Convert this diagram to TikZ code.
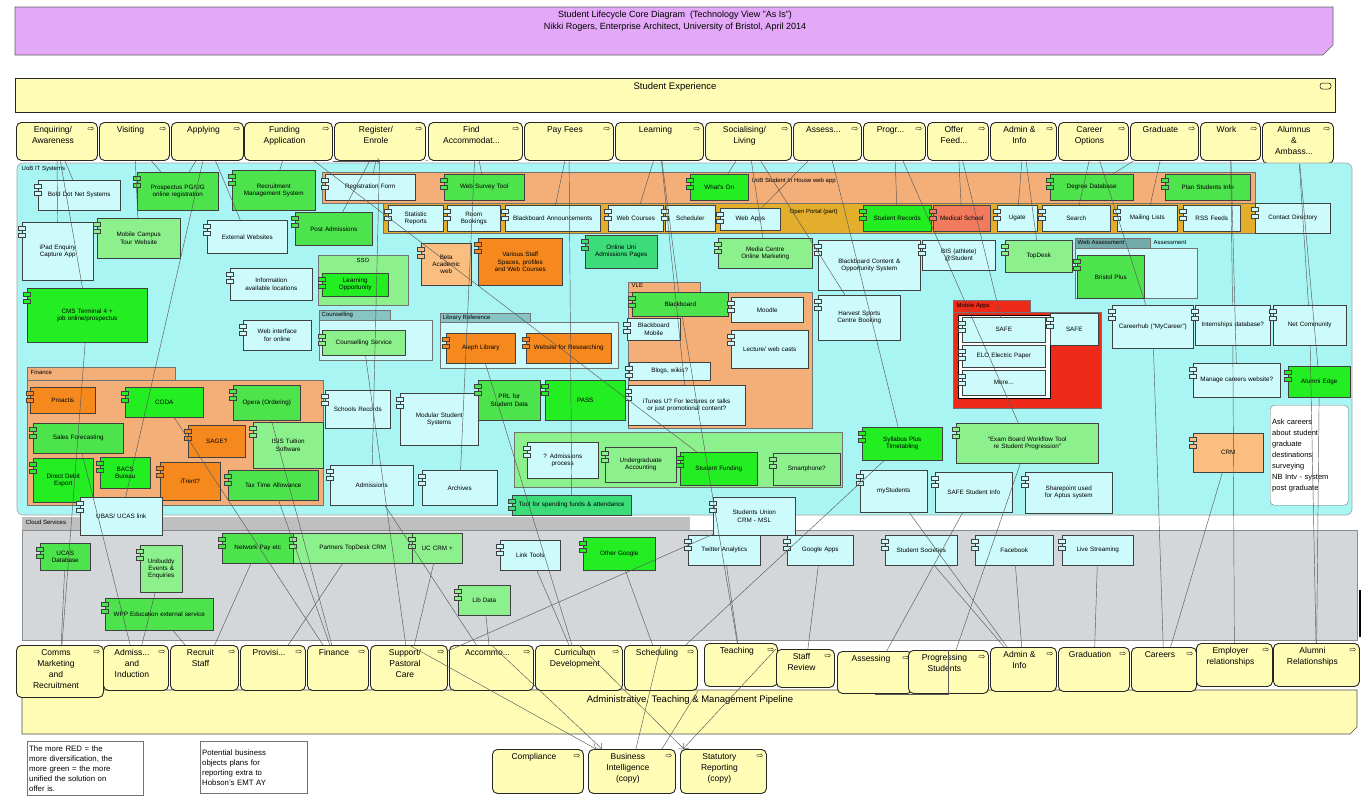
\documentclass[tikz,border=0pt]{standalone}
\usepackage{fontspec}
\setmainfont{Liberation Sans}
\newfontfamily\symf{DejaVu Sans}
\usetikzlibrary{arrows.meta}
\hyphenpenalty=10000
\exhyphenpenalty=10000

\definecolor{ttl}{HTML}{E3A8F7}
\definecolor{yel}{HTML}{FFFDB5}
\definecolor{uob}{HTML}{A9F5F4}
\definecolor{cld}{HTML}{D3D7DA}
\definecolor{cpale}{HTML}{CDFBFB}
\definecolor{gbright}{HTML}{22EE22}
\definecolor{gmid}{HTML}{4CE34C}
\definecolor{glight}{HTML}{8CF08C}
\definecolor{gteal}{HTML}{3DDC7A}
\definecolor{orng}{HTML}{F5891E}
\definecolor{peach}{HTML}{F4AE78}
\definecolor{lorng}{HTML}{F9BE80}
\definecolor{gold}{HTML}{E2AE2C}
\definecolor{redc}{HTML}{EE2A18}
\definecolor{salm}{HTML}{F27B5E}

\begin{document}
\begin{tikzpicture}[x=1pt, y=-1pt,
  every node/.append style={font=\fontsize{6.3}{7.2}\selectfont},
  sz/.code 2 args={\pgfmathsetmacro\bw{max(#1-12,4)}\edef\szopts{minimum width=#1pt, minimum height=#2pt, text width=\bw pt}\expandafter\tikzset\expandafter{\szopts}},
  proc/.style={draw=black!85, line width=0.9pt, fill=yel, rounded corners=5pt, anchor=north west, inner sep=0pt},
  ptxt/.style={anchor=north, yshift=-3pt, xshift=-4pt, align=center, inner sep=1pt, font=\fontsize{8.5}{11}\selectfont},
  picon/.style={inner sep=0pt, font=\symf\fontsize{8}{8}\selectfont},
  comp/.style={draw=black!75, fill=#1, line width=0.5pt, anchor=north west, align=center, inner sep=1pt,
    append after command={\pgfextra{\let\cnode\tikzlastnode}
      node[ctab=#1] at ([yshift=-6pt]\cnode.north west) {}
      node[ctab=#1] at ([yshift=-13pt]\cnode.north west) {}}},
  ctab/.style={draw=black!75, fill=#1, line width=0.5pt, minimum width=7pt, minimum height=4pt, inner sep=0pt},
  grp/.style={draw=black!55, line width=0.6pt},
  glbl/.style={anchor=north west, inner sep=1.5pt, font=\fontsize{6}{7}\selectfont},
  note/.style={draw=black!55, fill=white, anchor=north west, align=left, inner sep=2pt, font=\fontsize{7.8}{10}\selectfont},
  conn/.style={draw=black!65, line width=0.45pt},
  flow/.style={conn, -{Straight Barb[length=4pt]}}]

\useasboundingbox (0,0) rectangle (1367,796);
\fill[white] (0,0) rectangle (1367,796);

% title and student experience
\draw[fill=ttl, draw=black!60, line width=0.6pt] (15,7) -- (1333,7) -- (1333,45) -- (1323,55) -- (15,55) -- cycle;
\node[align=center, font=\fontsize{9}{12}\selectfont] (title) at (675,21)
  {Student Lifecycle Core Diagram~~(Technology View "As Is")\\Nikki Rogers, Enterprise Architect, University of Bristol, April 2014};
\draw[fill=yel, draw=black!85, line width=0.9pt] (15,78) rectangle (1335,112);
\node[font=\fontsize{9.5}{11}\selectfont] (sexp) at (675,87) {Student Experience};
\draw[line width=0.5pt, rounded corners=2.5pt] (1320,83) rectangle (1331,89);

% student journey
\node[proc, sz={81}{38}, label={[ptxt]north:{Enquiring/\\Awareness}}] (enq) at (16,122) {};
\node[proc, sz={70}{38}, label={[ptxt]north:Visiting}] (vis) at (99,122) {};
\node[proc, sz={72}{38}, label={[ptxt]north:Applying}] (app) at (171,122) {};
\node[proc, sz={88}{38}, label={[ptxt]north:{Funding\\Application}}] (fund) at (244,122) {};
\node[proc, sz={91}{38}, label={[ptxt]north:{Register/\\Enrole}}] (reg) at (334,122) {};
\node[proc, sz={94}{38}, label={[ptxt]north:{Find\\Accommodat...}}] (facc) at (428,122) {};
\node[proc, sz={89}{38}, label={[ptxt]north:Pay Fees}] (pay) at (524,122) {};
\node[proc, sz={88}{38}, label={[ptxt]north:Learning}] (learn) at (615,122) {};
\node[proc, sz={86}{38}, label={[ptxt]north:{Socialising/\\Living}}] (soc) at (705,122) {};
\node[proc, sz={68}{38}, label={[ptxt]north:Assess...}] (assess) at (793,122) {};
\node[proc, sz={62}{38}, label={[ptxt]north:Progr...}] (progr) at (863,122) {};
\node[proc, sz={61}{38}, label={[ptxt]north:{Offer\\Feed...}}] (offer) at (927,122) {};
\node[proc, sz={66}{38}, label={[ptxt]north:{Admin \&\\Info}}] (adminT) at (990,122) {};
\node[proc, sz={70}{38}, label={[ptxt]north:{Career\\Options}}] (career) at (1058,122) {};
\node[proc, sz={68}{38}, label={[ptxt]north:Graduate}] (grad) at (1130,122) {};
\node[proc, sz={60}{38}, label={[ptxt]north:Work}] (work) at (1200,122) {};
\node[proc, sz={71}{41}, label={[ptxt]north:{Alumnus\\\&\\Ambass...}}] (alum) at (1262,122) {};

% areas
\draw[fill=uob, draw=black!35, line width=0.6pt, rounded corners=6pt] (17,163) rectangle (1352,515);
\node[glbl] (uoblbl) at (20,165) {UoB IT Systems};
\fill[black!25] (22,517) rectangle (690,530);
\draw[fill=cld, draw=black!45, line width=0.6pt] (22,530) rectangle (1357,640);
\node[glbl] (cldlbl) at (24,518) {Cloud Services};
\draw[line width=1.5pt] (1360,590) -- (1360,637);
\draw[fill=yel, draw=black!70, line width=0.6pt] (22,690) -- (1357,690) -- (1357,727) -- (1350,734) -- (22,734) -- cycle;
\node[font=\fontsize{9.5}{11}\selectfont] (pipe) at (690,700) {Administrative, Teaching \& Management Pipeline};

% groups
\draw[grp, fill=peach, line width=1pt] (322,172) rectangle (1255,203);
\node[glbl] (bandlbl) at (750,176) {UoB Student In House web app};
\draw[grp, fill=gold, line width=1pt] (383,203) rectangle (1255,233);
\node[glbl] (goldlbl) at (788,207) {Open Portal (part)};
\draw[grp, fill=black!30!uob] (1075,238) rectangle (1150,248);
\node[glbl] (waslbl) at (1076,238) {Web Assessment};
\draw[grp, fill=cpale] (1075,248) rectangle (1197,298);
\node[glbl] (asslbl) at (1152,239) {Assessment};
\draw[grp, fill=glight] (318,255) rectangle (408,305);
\node[glbl] (ssolbl) at (355,257) {SSO};
\draw[grp, fill=black!20!uob] (319,310) rectangle (390,320);
\draw[grp, fill=cpale] (319,320) rectangle (432,360);
\node[glbl] (coulbl) at (320,310) {Counselling};
\draw[grp, fill=black!20!uob] (440,313) rectangle (530,322);
\draw[grp, fill=cpale] (440,322) rectangle (618,368);
\node[glbl] (liblbl) at (441,313) {Library Reference};
\draw[grp, fill=peach] (628,282) rectangle (700,292);
\draw[grp, fill=peach] (628,292) rectangle (812,428);
\node[glbl] (vlelbl) at (630,282) {VLE};
\draw[grp, fill=redc] (953,300) rectangle (1030,312);
\draw[grp, fill=redc] (953,312) rectangle (1101,408);
\node[glbl] (applbl) at (955,301) {Mobile Apps};
\draw[fill=white, draw=black, line width=1pt] (958,315) rectangle (1050,398);
\draw[grp, fill=peach] (27,367) rectangle (175,380);
\draw[grp, fill=peach] (27,380) rectangle (323,505);
\node[glbl] (finlbl) at (29,368) {Finance};
\draw[grp, fill=glight] (514,432) rectangle (842,487);

% systems
\node[comp=cpale, sz={82}{30}] (bdot) at (38,180) {Bold Dot Net Systems};
\node[comp=gmid, sz={81}{38}] (prosp) at (137,172) {Prospectus PG/UG online registration};
\node[comp=gmid, sz={83}{40}] (recman) at (232,170) {Recruitment Management System};
\node[comp=cpale, sz={90}{26}] (regf) at (325,174) {Registration Form};
\node[comp=gmid, sz={80}{26}] (sitesv) at (444,174) {Web Survey Tool};
\node[comp=gbright, sz={58}{26}] (whatson) at (690,174) {What's On};
\node[comp=gmid, sz={83}{26}] (degdb) at (1050,174) {Degree Database};
\node[comp=gmid, sz={85}{26}] (planst) at (1165,174) {Plan Students Info};
\node[comp=cpale, sz={55}{26}] (statr) at (388,205) {Statistic Reports};
\node[comp=cpale, sz={53}{26}] (roomb) at (447,205) {Room Bookings};
\node[comp=cpale, sz={95}{26}] (bbann) at (505,205) {Blackboard Announcements};
\node[comp=cpale, sz={55}{26}] (webc) at (608,205) {Web Courses};
\node[comp=cpale, sz={50}{26}] (sched1) at (665,205) {Scheduler};
\node[comp=cpale, sz={60}{22}] (webapps) at (720,208) {Web Apps};
\node[comp=gbright, sz={68}{26}] (strec) at (863,205) {Student Records};
\node[comp=salm, sz={57}{26}] (medsch) at (933,205) {Medical School};
\node[comp=cpale, sz={40}{26}] (ugate) at (997,205) {Ugate};
\node[comp=cpale, sz={68}{26}] (search) at (1042,205) {Search};
\node[comp=cpale, sz={60}{26}] (mail) at (1117,205) {Mailing Lists};
\node[comp=cpale, sz={57}{26}] (rss) at (1183,205) {RSS Feeds};
\node[comp=cpale, sz={75}{30}] (contd) at (1255,203) {Contact Directory};
\node[comp=cpale, sz={71}{58}] (ipad) at (22,222) {iPad Enquiry Capture App};
\node[comp=glight, sz={83}{40}] (mobtour) at (97,218) {Mobile Campus Tour Website};
\node[comp=cpale, sz={80}{33}] (eadm) at (207,220) {External Websites};
\node[comp=gmid, sz={77}{33}] (postadm) at (295,212) {Post Admissions};
\node[comp=lorng, sz={50}{42}] (betaw) at (421,243) {Beta Academic web};
\node[comp=orng, sz={84}{47}] (vstaff) at (478,238) {Various Staff Spaces, profiles and Web Courses};
\node[comp=gteal, sz={72}{33}] (onlserv) at (585,235) {Online Uni Admissions Pages};
\node[comp=glight, sz={94}{30}] (mediac) at (718,238) {Media Centre Online Marketing};
\node[comp=cpale, sz={102}{50}] (bbcont) at (818,240) {Blackboard Content \& Opportunity System};
\node[comp=cpale, sz={73}{30}] (bisst) at (922,240) {BIS (athlete) @Student};
\node[comp=glight, sz={67}{32}] (topdesk) at (1005,240) {TopDesk};
\node[comp=gmid, sz={67}{43}] (bplus) at (1077,255) {Bristol Plus};
\node[comp=cpale, sz={82}{32}] (uvis) at (230,268) {Information available locations};
\node[comp=gbright, sz={66}{23}] (learnopp) at (322,273) {Learning Opportunity};
\node[comp=gbright, sz={120}{54}] (cmst4) at (27,288) {CMS Terminal 4 + job online/prospectus};
\node[comp=cpale, sz={68}{30}] (webint) at (243,320) {Web interface for online};
\node[comp=glight, sz={83}{25}] (couns) at (322,330) {Counselling Service};
\node[comp=orng, sz={69}{30}] (aleph) at (446,333) {Aleph Library};
\node[comp=orng, sz={85}{30}] (wresearch) at (526,333) {Website for Researching};
\node[comp=gmid, sz={96}{24}] (bboard) at (632,292) {Blackboard};
\node[comp=cpale, sz={72}{25}] (moodle) at (731,297) {Moodle};
\node[comp=cpale, sz={53}{22}] (bbmob) at (627,318) {Blackboard Mobile};
\node[comp=cpale, sz={77}{38}] (lcast) at (731,330) {Lecture/ web casts};
\node[comp=cpale, sz={81}{18}] (blogs) at (629,362) {Blogs, wikis?};
\node[comp=cpale, sz={117}{40}] (itunes) at (628,385) {iTunes U? For lectures or talks or just promotional content?};
\node[comp=cpale, sz={82}{45}] (harvest) at (818,295) {Harvest Sports Centre Booking};
\node[comp=cpale, sz={83}{25}] (safe1) at (962,317) {SAFE};
\node[comp=cpale, sz={83}{22}] (elo) at (962,345) {ELO Electric Paper};
\node[comp=cpale, sz={83}{25}] (more) at (962,370) {More...};
\node[comp=cpale, sz={48}{32}] (safe2) at (1050,313) {SAFE};
\node[comp=cpale, sz={81}{43}] (chub) at (1112,305) {Careerhub (“MyCareer”)};
\node[comp=cpale, sz={75}{40}] (intern) at (1195,305) {Internships database?};
\node[comp=cpale, sz={73}{40}] (netcom) at (1273,305) {Net Community};
\node[comp=orng, sz={65}{26}] (proactis) at (30,387) {Proactis};
\node[comp=gbright, sz={78}{30}] (coda) at (125,387) {CODA};
\node[comp=gmid, sz={67}{35}] (opera) at (233,385) {Opera (Ordering)};
\node[comp=gmid, sz={90}{30}] (salesf) at (33,423) {Sales Forecasting};
\node[comp=orng, sz={57}{32}] (sage) at (188,425) {SAGE?};
\node[comp=glight, sz={70}{46}] (isis) at (253,422) {ISIS Tuition Software};
\node[comp=gbright, sz={60}{44}] (ddebit) at (33,458) {Direct Debit Export};
\node[comp=gbright, sz={50}{31}] (bacs) at (100,457) {BACS Bureau};
\node[comp=orng, sz={60}{38}] (itrent) at (160,462) {iTrent?};
\node[comp=gmid, sz={90}{30}] (taxt) at (228,470) {Tax Time Allowance};
\node[comp=cpale, sz={82}{38}] (ubas) at (80,497) {UBAS/ UCAS link};
\node[comp=cpale, sz={65}{38}] (schrec) at (325,390) {Schools Records};
\node[comp=cpale, sz={78}{52}] (modsys) at (400,393) {Modular Student Systems};
\node[comp=gmid, sz={62}{40}] (prl) at (478,380) {PRL for Student Data};
\node[comp=gbright, sz={80}{40}] (pass) at (545,380) {PASS};
\node[comp=cpale, sz={83}{40}] (admis) at (330,465) {Admissions};
\node[comp=cpale, sz={75}{35}] (archv) at (422,470) {Archives};
\node[comp=cpale, sz={71}{36}] (qadm) at (527,442) {? Admissions process};
\node[comp=glight, sz={71}{35}] (ugacc) at (605,447) {Undergraduate Accounting};
\node[comp=gbright, sz={77}{33}] (sfund) at (680,452) {Student Funding};
\node[comp=glight, sz={67}{32}] (smart) at (773,453) {Smartphone?};
\node[comp=gteal, sz={119}{20}] (tspend) at (512,495) {Tool for spending funds \& attendance};
\node[comp=cpale, sz={82}{38}] (sunion) at (713,497) {Students Union CRM - MSL};
\node[comp=gbright, sz={80}{33}] (syll) at (862,427) {Syllabus Plus Timetabling};
\node[comp=glight, sz={142}{40}] (exboard) at (956,423) {“Exam Board Workflow Tool re Student Progression”};
\node[comp=cpale, sz={67}{42}] (mystud) at (860,470) {myStudents};
\node[comp=cpale, sz={77}{40}] (safest) at (935,472) {SAFE Student Info};
\node[comp=cpale, sz={87}{41}] (shpt) at (1025,472) {Sharepoint used for Aptus system};
\node[comp=cpale, sz={87}{34}] (mcar) at (1193,363) {Manage careers website?};
\node[comp=gbright, sz={62}{31}] (aedge) at (1288,366) {Alumni Edge};
\node[comp=lorng, sz={70}{39}] (crm) at (1193,433) {CRM};
\node[note, text width=74pt, minimum height=100pt, rounded corners=4pt, font=\fontsize{7.5}{11}\selectfont] (ncareer) at (1270,405)
  {Ask careers\\about student\\graduate\\destinations\\surveying\\NB Intv - system\\post graduate};

% cloud services
\node[comp=gmid, sz={50}{27}] (ucasdb) at (40,543) {UCAS Database};
\node[comp=glight, sz={42}{47}] (unib) at (140,545) {Unibuddy Events \& Enquiries};
\node[comp=gmid, sz={108}{32}] (wpp) at (105,598) {WPP Education external service};
\node[comp=gmid, sz={71}{30}] (netpay) at (222,533) {Network Pay etc};
\node[comp=glight, sz={119}{30}] (partcrm) at (293,533) {Partners TopDesk CRM};
\node[comp=glight, sz={50}{30}] (uccrm) at (412,533) {UC CRM +};
\node[comp=cpale, sz={60}{30}] (link) at (500,540) {Link Tools};
\node[comp=gbright, sz={72}{33}] (ogoogle) at (583,537) {Other Google};
\node[comp=glight, sz={52}{30}] (libdata) at (458,585) {Lib Data};
\node[comp=cpale, sz={72}{30}] (twit) at (688,535) {Twitter Analytics};
\node[comp=cpale, sz={66}{30}] (gapps) at (787,535) {Google Apps};
\node[comp=cpale, sz={72}{30}] (ssoc) at (885,535) {Student Societies};
\node[comp=cpale, sz={78}{30}] (fbook) at (975,535) {Facebook};
\node[comp=cpale, sz={71}{30}] (lstream) at (1062,535) {Live Streaming};

% pipeline
\node[proc, sz={87}{52}, label={[ptxt]north:{Comms\\Marketing\\and\\Recruitment}}] (comms) at (16,645) {};
\node[proc, sz={65}{45}, label={[ptxt]north:{Admiss...\\and\\Induction}}] (admiss) at (103,645) {};
\node[proc, sz={68}{45}, label={[ptxt]north:{Recruit\\Staff}}] (recruit) at (170,645) {};
\node[proc, sz={65}{45}, label={[ptxt]north:Provisi...}] (provis) at (240,645) {};
\node[proc, sz={61}{45}, label={[ptxt]north:Finance}] (fin) at (307,645) {};
\node[proc, sz={77}{45}, label={[ptxt]north:{Support/\\Pastoral\\Care}}] (supp) at (370,645) {};
\node[proc, sz={84}{45}, label={[ptxt]north:Accommo...}] (accom) at (449,645) {};
\node[proc, sz={87}{45}, label={[ptxt]north:{Curriculum\\Development}}] (curr) at (535,645) {};
\node[proc, sz={73}{45}, label={[ptxt]north:Scheduling}] (sched) at (624,645) {};
\node[proc, sz={73}{43}, label={[ptxt]north:Teaching}] (teach) at (704,643) {};
\node[proc, sz={58}{38}, label={[ptxt]north:{Staff\\Review}}] (staff) at (776,649) {};
\node[proc, sz={75}{42}, label={[ptxt]north:Assessing}] (assessB) at (837,651) {};
\node[proc, sz={80}{43}, label={[ptxt]north:{Progressing\\Students}}] (progB) at (908,650) {};
\node[proc, sz={66}{44}, label={[ptxt]north:{Admin \&\\Info}}] (adminB) at (990,647) {};
\node[proc, sz={71}{44}, label={[ptxt]north:Graduation}] (gradB) at (1058,647) {};
\node[proc, sz={65}{44}, label={[ptxt]north:Careers}] (careers) at (1131,647) {};
\node[proc, sz={76}{43}, label={[ptxt]north:{Employer\\relationships}}] (employ) at (1196,643) {};
\node[proc, sz={86}{43}, label={[ptxt]north:{Alumni\\Relationships}}] (alumni) at (1273,643) {};

% reporting
\node[proc, sz={91}{44}, label={[ptxt]north:Compliance}] (compl) at (492,749) {};
\node[proc, sz={87}{44}, label={[ptxt]north:{Business\\Intelligence\\(copy)}}] (bi) at (588,749) {};
\node[proc, sz={86}{44}, label={[ptxt]north:{Statutory\\Reporting\\(copy)}}] (stat) at (680,749) {};

\foreach \p in {enq,vis,app,fund,reg,facc,pay,learn,soc,assess,progr,offer,adminT,career,grad,work,alum,
    comms,admiss,recruit,provis,fin,supp,accom,curr,sched,teach,staff,assessB,progB,adminB,gradB,careers,employ,alumni,
    compl,bi,stat}
  \node[picon] (i\p) at ([xshift=-7pt,yshift=-7pt]\p.north east) {⇨};

% notes
\node[note, text width=112pt, minimum height=54pt] (nred) at (27,741)
  {The more RED = the\\more diversification, the\\more green = the more\\unified the solution on\\offer is.};
\node[note, text width=103pt, minimum height=52pt] (nbo) at (200,741)
  {Potential business\\objects plans for\\reporting extra to\\Hobson's EMT AY};

% journey to systems
\draw[conn] (enq) -- (bdot);
\draw[conn] (enq) -- (ipad);
\draw[conn] (enq) -- (cmst4);
\draw[conn] (vis) -- (mobtour);
\draw[conn] (vis) -- (prosp);
\draw[conn] (app) -- (prosp);
\draw[conn] (app) -- (eadm);
\draw[conn] (app) -- (ubas);
\draw[conn] (fund) -- (recman);
\draw[conn] (fund) -- (sfund);
\draw[conn] (reg) -- (regf);
\draw[conn] (reg) -- (postadm);
\draw[conn] (reg) -- (admis);
\draw[conn] (facc) -- (sitesv);
\draw[conn] (facc) -- (archv);
\draw[conn] (pay) -- (bbann);
\draw[conn] (pay) -- (tspend);
\draw[conn] (learn) -- (bboard);
\draw[conn] (learn) -- (webc);
\draw[conn] (learn) -- (itunes);
\draw[conn] (soc) -- (whatson);
\draw[conn] (soc) -- (mediac);
\draw[conn] (soc) -- (harvest);
\draw[conn] (assess) -- (webapps);
\draw[conn] (assess) -- (syll);
\draw[conn] (progr) -- (strec);
\draw[conn] (progr) -- (exboard);
\draw[conn] (offer) -- (medsch);
\draw[conn] (offer) -- (safe1);
\draw[conn] (adminT) -- (ugate);
\draw[conn] (adminT) -- (topdesk);
\draw[conn] (career) -- (search);
\draw[conn] (career) -- (chub);
\draw[conn] (grad) -- (degdb);
\draw[conn] (grad) -- (mail);
\draw[conn] (work) -- (intern);
\draw[conn] (work) -- (mcar);
\draw[conn] (alum) -- (netcom);
\draw[conn] (alum) -- (aedge);
\draw[conn,->] (fund.south east) -- (reg.south);
\draw[conn] (reg.south east) -- (facc);

% systems to pipeline
\draw[conn] (cmst4) -- (comms);
\draw[conn] (ucasdb) -- (comms);
\draw[conn] (salesf) -- (admiss);
\draw[conn] (unib) -- (admiss);
\draw[conn] (wpp) -- (recruit);
\draw[conn] (netpay) -- (recruit);
\draw[conn] (partcrm) -- (provis);
\draw[conn] (coda) -- (fin);
\draw[conn] (opera) -- (fin);
\draw[conn] (taxt) -- (fin);
\draw[conn] (couns) -- (supp);
\draw[conn] (sunion) -- (supp);
\draw[conn] (uccrm) -- (supp);
\draw[conn] (admis) -- (accom);
\draw[conn] (libdata) -- (accom);
\draw[conn] (aleph) -- (curr);
\draw[conn] (link) -- (curr);
\draw[conn] (syll) -- (sched);
\draw[conn] (ogoogle) -- (sched);
\draw[conn] (bboard) -- (teach);
\draw[conn] (twit) -- (teach);
\draw[conn] (gapps) -- (staff);
\draw[conn] (safest) -- (assessB);
\draw[conn] (exboard) -- (progB);
\draw[conn] (mystud) -- (adminB);
\draw[conn] (ssoc) -- (adminB);
\draw[conn] (fbook) -- (adminB);
\draw[conn] (lstream) -- (gradB);
\draw[conn] (chub) -- (careers);
\draw[conn] (crm) -- (careers);
\draw[conn] (intern) -- (employ);
\draw[conn] (aedge) -- (alumni);
\draw[conn] (netcom) -- (alumni);

% pipeline to reporting
\draw[flow] (supp.north) -- ([xshift=8pt]bi.north west);
\draw[flow] (accom.north) -- ([xshift=14pt]bi.north west);
\draw[flow] (curr.north) -- ([xshift=4pt]stat.north west);
\draw[conn] ([xshift=-40pt]bi.north east) -- (sched.north);
\draw[conn] ([xshift=-14pt]bi.north east) -- (sched.south east);
\draw[flow] (staff.north west) -- ([xshift=3pt]stat.north west);
\draw[conn] (progB.north) |- (assessB.south);
\end{tikzpicture}
\end{document}
